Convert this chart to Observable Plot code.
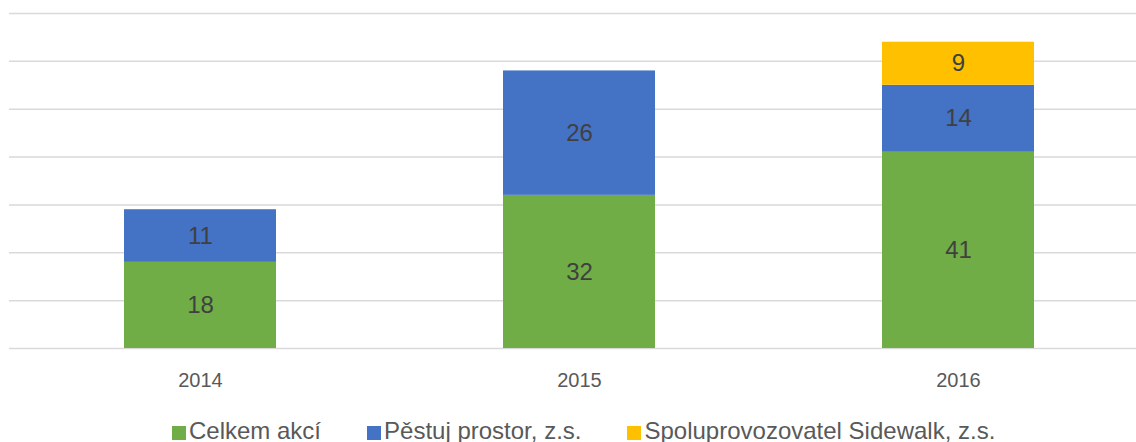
<!DOCTYPE html>
<html>
<head>
<meta charset="utf-8">
<script src="https://cdn.jsdelivr.net/npm/d3@7"></script>
<script src="https://cdn.jsdelivr.net/npm/@observablehq/plot@0.6"></script>
<style>
  html, body { margin: 0; padding: 0; background: #fff; overflow: hidden; }
  #chart svg { display: block; }
  #legend { display: flex; align-items: flex-start; height: 47px; box-sizing: border-box; padding-top: 22px; padding-left: 172px; font-family: "Liberation Sans", Arial, sans-serif; font-size: 24px; line-height: 1.15; color: #595959; white-space: nowrap; }
  .item { display: flex; align-items: center; margin-right: 46px; }
  .sw { width: 14px; height: 14px; margin-right: 3px; margin-top: 5px; }
</style>
</head>
<body>
<div id="chart"></div>
<div id="legend"></div>
<script>
const years = ["2014", "2015", "2016"];
const seriesNames = ["Celkem akcí", "Pěstuj prostor, z.s.", "Spoluprovozovatel Sidewalk, z.s."];
const seriesColors = ["#70AD47", "#4472C4", "#FFC000"];
const celkem = [18, 32, 41];
const pestuj = [11, 26, 14];
const sidewalk = [null, null, 9];
const gridTicks = [0, 10, 20, 30, 40, 50, 60, 70];

const valuesBySeries = [celkem, pestuj, sidewalk];
const data = [];
valuesBySeries.forEach((vals, si) => {
  vals.forEach((v, yi) => {
    if (v != null) data.push({year: years[yi], series: seriesNames[si], value: v});
  });
});

const chart = Plot.plot({
  width: 1136,
  height: 395,
  marginLeft: 9,
  marginRight: 0,
  marginTop: 13,
  marginBottom: 47,
  x: {domain: years, range: [9.25, 1147.75], paddingInner: 0.6, paddingOuter: 0.3, label: null},
  y: {domain: [0, 70], axis: null},
  color: {domain: seriesNames, range: seriesColors},
  style: {fontFamily: "Liberation Sans, Arial, sans-serif", background: "#fff", overflow: "visible"},
  marks: [
    Plot.ruleY(gridTicks, {stroke: "#d9d9d9", strokeWidth: 1.5}),
    Plot.barY(data, {x: "year", y: "value", fill: "series", z: "series", inset: 0}),
    Plot.text(data, Plot.stackY({x: "year", y: "value", z: "series", text: d => String(d.value), fill: "#404040", fontSize: 24})),
    Plot.axisX({tickSize: 0, tickPadding: 24, fontSize: 20, color: "#595959", label: null})
  ]
});
document.getElementById("chart").appendChild(chart);

const legend = document.getElementById("legend");
seriesNames.forEach((name, i) => {
  const item = document.createElement("div");
  item.className = "item";
  const sw = document.createElement("span");
  sw.className = "sw";
  sw.style.background = seriesColors[i];
  const t = document.createElement("span");
  t.textContent = name;
  item.appendChild(sw);
  item.appendChild(t);
  legend.appendChild(item);
});
</script>
</body>
</html>
